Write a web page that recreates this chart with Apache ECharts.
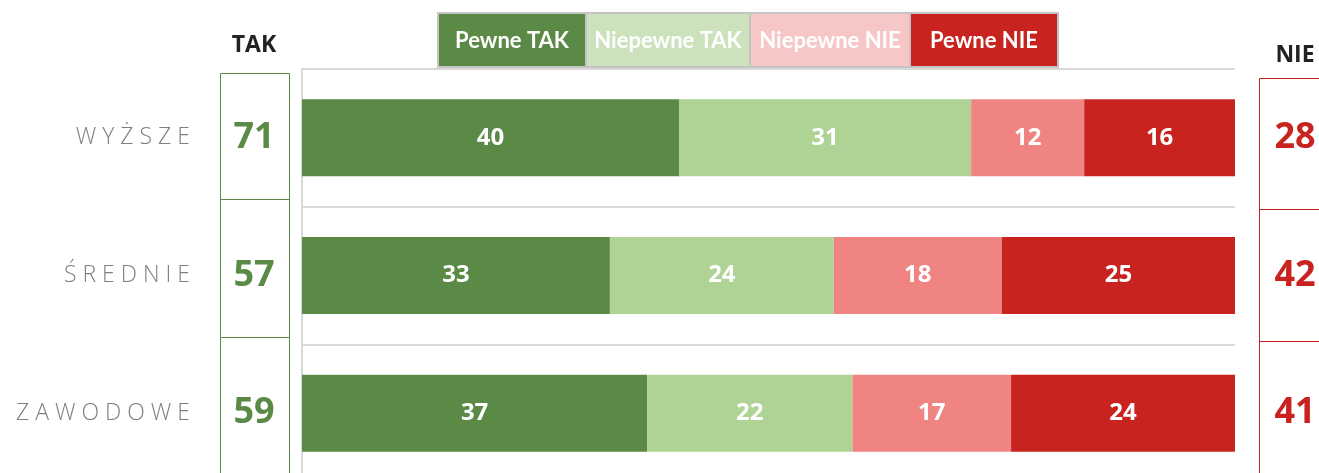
<!DOCTYPE html>
<html>
<head>
    <meta charset="utf-8">
    <script src="https://cdn.jsdelivr.net/npm/echarts@6/dist/echarts.min.js"></script>
    <style>
        * { margin: 0; padding: 0; }
        #chart { width: 1319px; height: 473px; }
    </style>
</head>
<body>
    <div id="chart"></div>
    <script>
        // dane
        var categories = ['WYŻSZE', 'ŚREDNIE', 'ZAWODOWE'];
        var seriesNames = ['Pewne TAK', 'Niepewne TAK', 'Niepewne NIE', 'Pewne NIE'];
        var pewneTak = [40, 33, 37];
        var niepewneTak = [31, 24, 22];
        var niepewneNie = [12, 18, 17];
        var pewneNie = [16, 25, 24];
        var takTotals = [71, 57, 59];
        var nieTotals = [28, 42, 41];

        var barColors = ['#5A8A45', '#AED395', '#F08483', '#C8231E'];
        var legendColors = ['#5A8A45', '#CCE2BC', '#F7C6C6', '#C8231E'];
        var raw = [pewneTak, niepewneTak, niepewneNie, pewneNie];

        // 100% skumulowane - dzielimy przez sume wiersza
        var rowSums = categories.map(function (c, i) {
            return raw.reduce(function (s, arr) { return s + arr[i]; }, 0);
        });

        var series = raw.map(function (arr, k) {
            return {
                name: seriesNames[k],
                type: 'bar',
                stack: 'all',
                barWidth: 77,
                itemStyle: { color: barColors[k] },
                label: {
                    show: true,
                    color: '#fff',
                    fontFamily: 'Open Sans',
                    fontWeight: 'bold',
                    fontSize: 24,
                    formatter: function (p) { return raw[k][p.dataIndex]; }
                },
                data: arr.map(function (v, i) { return v / rowSums[i] * 100; })
            };
        });

        function spaced(s) {
            return s.split('').join(' ');
        }

        // legenda jako kafelki
        var legendX = [438, 586, 750, 910, 1058];
        var graphics = [];
        for (var i = 0; i < 4; i++) {
            graphics.push({
                type: 'rect',
                shape: { x: legendX[i], y: 13, width: legendX[i + 1] - legendX[i], height: 54 },
                style: { fill: legendColors[i], stroke: '#C4C4C4', lineWidth: 2 }
            });
            graphics.push({
                type: 'text',
                x: (legendX[i] + legendX[i + 1]) / 2,
                y: 41,
                style: {
                    text: seriesNames[i], fill: '#fff', fontSize: 22, fontFamily: 'Lato',
                    fontWeight: 'bold', align: 'center', verticalAlign: 'middle'
                }
            });
        }
        // naglowki
        graphics.push({
            type: 'text', x: 254, y: 45,
            style: { text: 'TAK', fill: '#222', fontSize: 23, fontWeight: 'bold', fontFamily: 'Open Sans', align: 'center', verticalAlign: 'middle' }
        });
        graphics.push({
            type: 'text', x: 1295, y: 55,
            style: { text: 'NIE', fill: '#222', fontSize: 23, fontWeight: 'bold', fontFamily: 'Open Sans', align: 'center', verticalAlign: 'middle' }
        });
        // ramki kolumn TAK / NIE
        var leftBox = [73, 199, 337, 480];
        var rightBox = [78, 209, 341, 480];
        for (var j = 0; j < 3; j++) {
            graphics.push({
                type: 'rect',
                shape: { x: 220.5, y: leftBox[j] + 0.5, width: 69, height: leftBox[j + 1] - leftBox[j] },
                style: { fill: 'none', stroke: '#5A8A45', lineWidth: 1 }
            });
            graphics.push({
                type: 'rect',
                shape: { x: 1259.5, y: rightBox[j] + 0.5, width: 80, height: rightBox[j + 1] - rightBox[j] },
                style: { fill: 'none', stroke: '#C8231E', lineWidth: 1 }
            });
        }

        var chart = echarts.init(document.getElementById('chart'));
        var option = {
            animation: false,
            grid: { left: 302, width: 933, top: 69, height: 413, containLabel: false, outerBoundsMode: 'none' },
            xAxis: { type: 'value', min: 0, max: 100, show: false },
            yAxis: [{
                type: 'category',
                inverse: true,
                data: categories,
                axisLine: { show: true, lineStyle: { color: '#D9D9D9', width: 2 } },
                axisTick: { show: false },
                splitLine: { show: true, lineStyle: { color: '#D9D9D9', width: 2 } },
                axisLabel: {
                    margin: 112,
                    color: '#7F7F7F',
                    fontFamily: 'Open Sans',
                    fontWeight: 300,
                    fontSize: 23,
                    formatter: function (v) { return spaced(v); }
                }
            }, {
                type: 'category',
                inverse: true,
                position: 'left',
                data: categories,
                axisLine: { show: false },
                axisTick: { show: false },
                splitLine: { show: false },
                axisLabel: {
                    margin: 48,
                    align: 'center',
                    color: '#5A8A45',
                    fontFamily: 'Open Sans',
                    fontWeight: 'bold',
                    fontSize: 36,
                    formatter: function (v, i) { return takTotals[i]; }
                }
            }, {
                type: 'category',
                inverse: true,
                position: 'right',
                data: categories,
                axisLine: { show: false },
                axisTick: { show: false },
                splitLine: { show: false },
                axisLabel: {
                    margin: 60,
                    align: 'center',
                    padding: [12, 0, 0, 0],
                    color: '#C8231E',
                    fontFamily: 'Open Sans',
                    fontWeight: 'bold',
                    fontSize: 36,
                    formatter: function (v, i) { return nieTotals[i]; }
                }
            }],
            series: series,
            graphic: graphics
        };
        chart.setOption(option);
    </script>
</body>
</html>
